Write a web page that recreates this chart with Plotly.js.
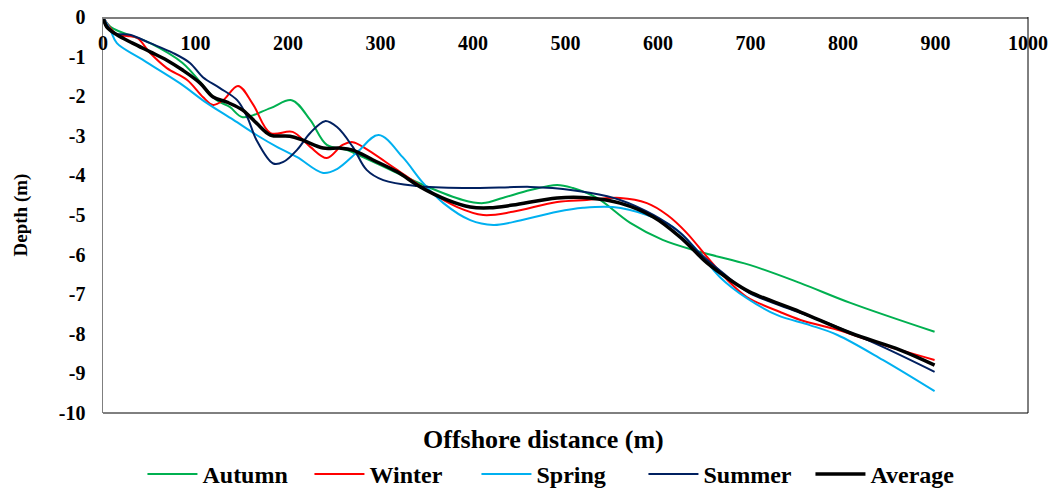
<!DOCTYPE html>
<html>
<head>
<meta charset="utf-8">
<script src="https://cdn.plot.ly/plotly-3.0.1.min.js"></script>
<style>html,body{margin:0;padding:0;background:#fff;}#chart{width:1053px;height:489px;}</style>
</head>
<body>
<div id="chart"></div>
<script>
// Offshore distance (m) and depth (m) for each season
const autumnX = [0, 8, 51, 86, 123, 137, 151, 181, 204, 224, 242, 264, 281, 318, 346, 389, 411, 432, 462, 491, 508, 534, 570, 605, 645, 699, 754, 808, 899];
const autumnY = [0, -0.25, -0.66, -1.16, -2.10, -2.27, -2.53, -2.30, -2.10, -2.60, -3.23, -3.36, -3.54, -3.94, -4.24, -4.62, -4.70, -4.57, -4.37, -4.24, -4.32, -4.57, -5.20, -5.63, -5.93, -6.26, -6.72, -7.22, -7.95];

const winterX = [0, 15, 26, 37, 51, 69, 91, 108, 119, 130, 146, 162, 181, 205, 224, 242, 259, 270, 281, 318, 350, 383, 411, 443, 491, 523, 559, 588, 610, 631, 653, 675, 696, 732, 754, 794, 843, 899];
const winterY = [0, -0.45, -0.48, -0.53, -0.91, -1.29, -1.59, -2.02, -2.22, -2.10, -1.74, -2.20, -2.93, -2.90, -3.28, -3.56, -3.23, -3.16, -3.28, -3.86, -4.37, -4.80, -5.00, -4.92, -4.67, -4.62, -4.57, -4.70, -5.00, -5.45, -6.06, -6.64, -7.07, -7.45, -7.65, -7.90, -8.28, -8.66];

const springX = [0, 8, 15, 40, 83, 112, 141, 166, 188, 210, 238, 253, 275, 298, 324, 346, 368, 397, 422, 443, 491, 519, 551, 588, 616, 642, 667, 696, 729, 764, 794, 843, 899];
const springY = [0, -0.33, -0.66, -1.04, -1.67, -2.17, -2.60, -2.98, -3.28, -3.54, -3.94, -3.84, -3.41, -2.98, -3.54, -4.19, -4.70, -5.13, -5.25, -5.18, -4.92, -4.82, -4.80, -5.00, -5.30, -5.88, -6.57, -7.10, -7.53, -7.78, -8.03, -8.66, -9.45];

const summerX = [0, 11, 29, 51, 76, 94, 108, 126, 145, 156, 166, 184, 195, 210, 224, 240, 253, 270, 285, 303, 339, 389, 462, 486, 526, 559, 595, 624, 645, 670, 699, 754, 794, 843, 899];
const summerY = [0, -0.40, -0.45, -0.66, -0.91, -1.16, -1.52, -1.79, -2.10, -2.53, -3.11, -3.70, -3.66, -3.35, -2.93, -2.63, -2.78, -3.28, -3.86, -4.12, -4.27, -4.32, -4.29, -4.32, -4.44, -4.62, -5.00, -5.45, -5.96, -6.46, -6.97, -7.47, -7.83, -8.33, -8.96];

const averageX = [0, 4, 15, 32, 51, 69, 86, 105, 119, 134, 151, 166, 181, 202, 216, 238, 256, 270, 292, 318, 343, 372, 397, 418, 443, 491, 526, 559, 595, 624, 653, 678, 699, 754, 808, 862, 899];
const averageY = [0, -0.25, -0.45, -0.66, -0.88, -1.09, -1.34, -1.67, -2.02, -2.15, -2.35, -2.68, -2.98, -3.01, -3.11, -3.31, -3.31, -3.36, -3.61, -3.91, -4.29, -4.62, -4.80, -4.82, -4.75, -4.57, -4.57, -4.70, -5.05, -5.56, -6.21, -6.64, -6.94, -7.45, -7.98, -8.41, -8.79];

const xTicks = [0, 100, 200, 300, 400, 500, 600, 700, 800, 900, 1000];
const yTicks = [0, -1, -2, -3, -4, -5, -6, -7, -8, -9, -10];

const FONT = 'Liberation Serif, Times New Roman, serif';

function series(name, x, y, color, width) {
  return {
    type: 'scatter', mode: 'lines', name: name, x: x, y: y,
    line: {color: color, width: width, shape: 'spline', smoothing: 1},
    hoverinfo: 'skip'
  };
}

const data = [
  series('Autumn', autumnX, autumnY, '#00B050', 2),
  series('Winter', winterX, winterY, '#FF0000', 2),
  series('Spring', springX, springY, '#00B0F0', 2),
  series('Summer', summerX, summerY, '#002060', 2),
  series('Average', averageX, averageY, '#000000', 3.5)
];

const layout = {
  width: 1053, height: 489,
  margin: {l: 103, r: 25, t: 17, b: 76, autoexpand: false},
  paper_bgcolor: '#ffffff', plot_bgcolor: '#ffffff',
  font: {family: FONT, color: '#000000'},
  showlegend: true,
  xaxis: {
    range: [0, 1000], anchor: 'free', position: 1, side: 'bottom',
    tickvals: xTicks, ticktext: xTicks.map(String),
    ticks: 'outside', ticklen: 7, tickcolor: 'rgba(0,0,0,0)',
    showgrid: false, zeroline: false,
    showline: true, linecolor: '#7f7f7f', linewidth: 1.5,
    tickfont: {family: FONT, size: 20, color: '#000000', weight: 'bold'}
  },
  yaxis: {
    range: [-10, 0], tickvals: yTicks, ticktext: yTicks.map(String),
    ticks: 'outside', ticklen: 12, tickcolor: 'rgba(0,0,0,0)',
    showgrid: false, zeroline: false,
    showline: true, linecolor: '#7f7f7f', linewidth: 1.5,
    tickfont: {family: FONT, size: 20, color: '#000000', weight: 'bold'},
    title: {text: 'Depth (m)', standoff: 26, font: {family: FONT, size: 19, color: '#000000', weight: 'bold'}}
  },
  shapes: [
    {type: 'line', xref: 'paper', yref: 'paper', x0: 0, x1: 1, y0: 0, y1: 0, line: {color: '#000000', width: 1}},
    {type: 'line', xref: 'paper', yref: 'paper', x0: 1, x1: 1, y0: 0, y1: 1, line: {color: '#000000', width: 1}}
  ],
  annotations: [
    {text: 'Offshore distance (m)', xref: 'paper', yref: 'paper', x: 0.476, y: -0.068,
     xanchor: 'center', yanchor: 'middle', showarrow: false,
     font: {family: FONT, size: 26, color: '#000000', weight: 'bold'}}
  ],
  legend: {
    orientation: 'h', x: 0.494, xanchor: 'center', y: -0.155, yanchor: 'middle',
    font: {family: FONT, size: 24, color: '#000000', weight: 'bold'},
    bgcolor: 'rgba(0,0,0,0)', itemwidth: 50,
    entrywidth: 102, entrywidthmode: 'pixels'
  }
};

Plotly.newPlot('chart', data, layout, {displayModeBar: false, staticPlot: true});
</script>
</body>
</html>
